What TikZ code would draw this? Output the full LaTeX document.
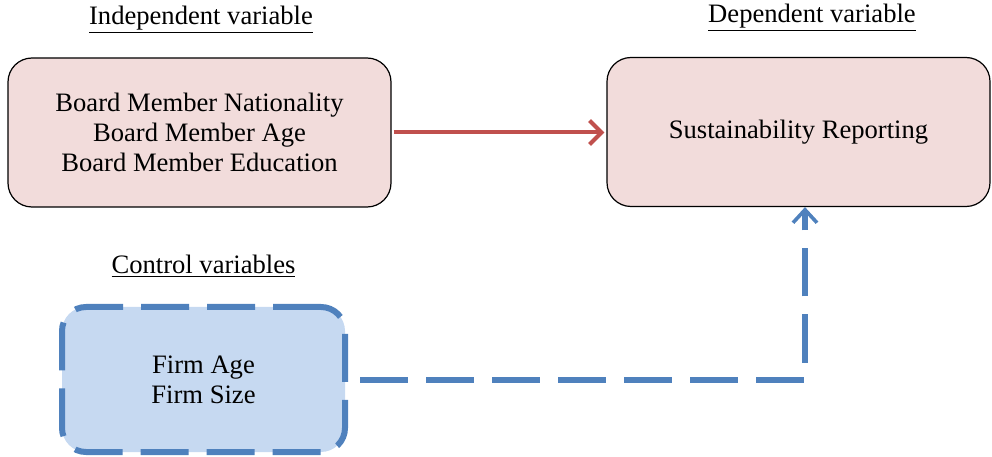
\documentclass[tikz,border=0pt]{standalone}
\usepackage{fontspec}
\setmainfont{Liberation Serif}
\usepackage{xcolor}
\usetikzlibrary{arrows.meta,calc,positioning}
\definecolor{varfill}{HTML}{F2DCDB}
\definecolor{ctrlfill}{HTML}{C6D9F1}
\definecolor{ctrldraw}{HTML}{4F81BD}
\definecolor{linkred}{HTML}{C0504D}
\tikzset{
  varbox/.style={
    rounded corners=12pt,
    draw=black,
    line width=0.6pt,
    fill=varfill,
    align=center,
    font=\fontsize{13.3}{15}\selectfont,
    inner sep=0pt,
    minimum width=191.5pt,
    minimum height=74.5pt
  },
  ctrlbox/.style={
    varbox,
    draw=ctrldraw,
    fill=ctrlfill,
    line width=3pt,
    dash pattern=on 24pt off 9pt,
    minimum width=141.5pt,
    minimum height=72.5pt
  },
  heading/.style={font=\fontsize{13.3}{15}\selectfont},
  mainedge/.style={line width=2pt, draw=linkred, -{Straight Barb[length=6pt,width=12pt,line width=2pt]}},
  ctrledge/.style={line width=3pt, draw=ctrldraw, dash pattern=on 24pt off 9pt,
    -{Straight Barb[length=6.5pt,width=12pt,line width=1.8pt]}}
}

\begin{document}
\begin{tikzpicture}[x=0.5pt,y=0.5pt]
\path[use as bounding box] (0,0) rectangle (992,456);

\node[varbox] (indep) at (199.5,323.5) {Board Member Nationality\\Board Member Age\\Board Member Education};
\node[varbox] (dep) at (798.5,324) {Sustainability Reporting};
\node[ctrlbox] (ctrl) at (203.5,76.5) {Firm Age\\Firm Size};

\node[heading] (indeplabel) at (201,436) {\underline{Independent variable}};
\node[heading] (deplabel) at (812,438) {\underline{Dependent variable}};
\node[heading] (ctrllabel) at (203.5,190) {\underline{Control variables}};

\draw[mainedge] ([xshift=1pt]indep.east) -- ([xshift=-1pt]indep.east -| dep.west);
\draw[ctrledge] ([xshift=6pt]ctrl.east) -| ([xshift=3.25pt]dep.south);

\end{tikzpicture}
\end{document}
